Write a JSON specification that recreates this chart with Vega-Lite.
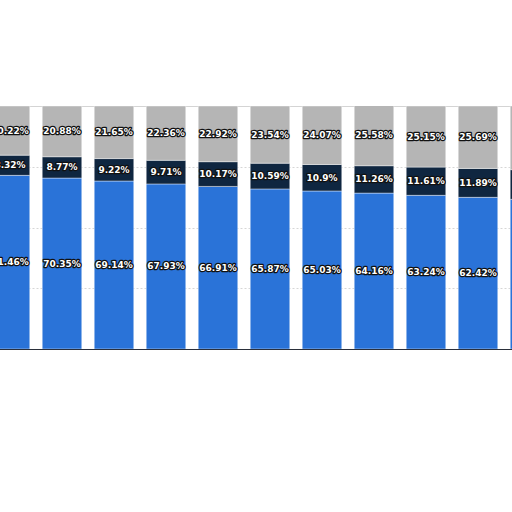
{
  "$schema": "https://vega.github.io/schema/vega-lite/v6.json",
  "width": 624,
  "height": 243,
  "autosize": {"type": "none"},
  "padding": {"left": -16, "top": 106, "right": -96, "bottom": 163},
  "background": "white",
  "config": {"view": {"stroke": "#d4d4d4", "strokeWidth": 1}},
  "data": {
    "values": [
      {"bar": "1", "segment": "a", "ord": 1, "value": 0.7146},
      {"bar": "1", "segment": "b", "ord": 2, "value": 0.0832},
      {"bar": "1", "segment": "c", "ord": 3, "value": 0.2022},
      {"bar": "2", "segment": "a", "ord": 1, "value": 0.7035},
      {"bar": "2", "segment": "b", "ord": 2, "value": 0.0877},
      {"bar": "2", "segment": "c", "ord": 3, "value": 0.2088},
      {"bar": "3", "segment": "a", "ord": 1, "value": 0.6914},
      {"bar": "3", "segment": "b", "ord": 2, "value": 0.0922},
      {"bar": "3", "segment": "c", "ord": 3, "value": 0.2165},
      {"bar": "4", "segment": "a", "ord": 1, "value": 0.6793},
      {"bar": "4", "segment": "b", "ord": 2, "value": 0.0971},
      {"bar": "4", "segment": "c", "ord": 3, "value": 0.2236},
      {"bar": "5", "segment": "a", "ord": 1, "value": 0.6691},
      {"bar": "5", "segment": "b", "ord": 2, "value": 0.1017},
      {"bar": "5", "segment": "c", "ord": 3, "value": 0.2292},
      {"bar": "6", "segment": "a", "ord": 1, "value": 0.6587},
      {"bar": "6", "segment": "b", "ord": 2, "value": 0.1059},
      {"bar": "6", "segment": "c", "ord": 3, "value": 0.2354},
      {"bar": "7", "segment": "a", "ord": 1, "value": 0.6503},
      {"bar": "7", "segment": "b", "ord": 2, "value": 0.109},
      {"bar": "7", "segment": "c", "ord": 3, "value": 0.2407},
      {"bar": "8", "segment": "a", "ord": 1, "value": 0.6416},
      {"bar": "8", "segment": "b", "ord": 2, "value": 0.1126},
      {"bar": "8", "segment": "c", "ord": 3, "value": 0.2558},
      {"bar": "9", "segment": "a", "ord": 1, "value": 0.6324},
      {"bar": "9", "segment": "b", "ord": 2, "value": 0.1161},
      {"bar": "9", "segment": "c", "ord": 3, "value": 0.2515},
      {"bar": "10", "segment": "a", "ord": 1, "value": 0.6242},
      {"bar": "10", "segment": "b", "ord": 2, "value": 0.1189},
      {"bar": "10", "segment": "c", "ord": 3, "value": 0.2569},
      {"bar": "11", "segment": "a", "ord": 1, "value": 0.6160},
      {"bar": "11", "segment": "b", "ord": 2, "value": 0.1220},
      {"bar": "11", "segment": "c", "ord": 3, "value": 0.2620},
      {"bar": "12", "segment": "a", "ord": 1, "value": 0.6080},
      {"bar": "12", "segment": "b", "ord": 2, "value": 0.1250},
      {"bar": "12", "segment": "c", "ord": 3, "value": 0.2670}
    ]
  },
  "encoding": {
    "x": {
      "field": "bar",
      "type": "ordinal",
      "sort": null,
      "scale": {"paddingInner": 0.24, "paddingOuter": 0.12},
      "axis": {"title": null, "labels": false, "ticks": false, "domain": true, "domainColor": "#2a2f3a", "domainWidth": 1.2, "grid": false}
    }
  },
  "layer": [
    {
      "mark": {"type": "bar", "clip": true, "stroke": "#ffffff", "strokeWidth": 0.6, "strokeOpacity": 0.7},
      "encoding": {
        "y": {
          "field": "value",
          "type": "quantitative",
          "stack": "zero",
          "scale": {"domain": [0, 1], "nice": false},
          "axis": {"title": null, "labels": false, "ticks": false, "domain": false, "grid": true, "values": [0.25, 0.5, 0.75], "gridColor": "#d6d6d6", "gridDash": [2, 2], "gridWidth": 1}
        },
        "color": {
          "field": "segment",
          "type": "nominal",
          "scale": {"domain": ["a", "b", "c"], "range": ["#2a73d8", "#0f2640", "#b5b5b5"]},
          "legend": null
        },
        "order": {"field": "ord", "type": "quantitative"}
      }
    },
    {
      "mark": {"type": "text", "clip": true, "font": "DejaVu Sans", "fontWeight": "bold", "fontSize": 9, "fill": "#111111", "stroke": "#111111", "strokeWidth": 2.5, "strokeJoin": "round", "baseline": "middle", "align": "center"},
      "encoding": {
        "y": {"field": "value", "type": "quantitative", "stack": "zero", "bandPosition": 0.5},
        "detail": {"field": "segment"},
        "order": {"field": "ord", "type": "quantitative"},
        "text": {"field": "value", "type": "quantitative", "format": ".2~%"}
      }
    },
    {
      "mark": {"type": "text", "clip": true, "font": "DejaVu Sans", "fontWeight": "bold", "fontSize": 9, "fill": "#ffffff", "baseline": "middle", "align": "center"},
      "encoding": {
        "y": {"field": "value", "type": "quantitative", "stack": "zero", "bandPosition": 0.5},
        "detail": {"field": "segment"},
        "order": {"field": "ord", "type": "quantitative"},
        "text": {"field": "value", "type": "quantitative", "format": ".2~%"}
      }
    }
  ]
}
